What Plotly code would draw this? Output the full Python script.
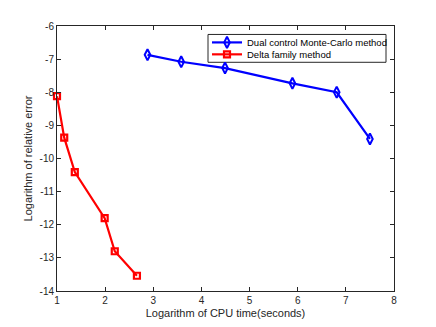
import plotly.graph_objects as go

mc_x = [2.88, 3.58, 4.49, 5.89, 6.81, 7.50]
mc_y = [-6.87, -7.08, -7.27, -7.73, -8.00, -9.41]
delta_x = [1.00, 1.15, 1.37, 1.99, 2.20, 2.66]
delta_y = [-8.12, -9.37, -10.41, -11.80, -12.80, -13.54]

xticks = [1, 2, 3, 4, 5, 6, 7, 8]
yticks = [-6, -7, -8, -9, -10, -11, -12, -13, -14]

series_names = ["Dual control Monte-Carlo method", "Delta family method"]
series_colors = ["#0000ff", "#ff0000"]

FONT = "Liberation Sans, Arial"
mc_marker = dict(symbol="diamond-tall-open", size=8, color=series_colors[0],
                 line=dict(width=2, color=series_colors[0]))
dl_marker = dict(symbol="square-open", size=6, color=series_colors[1],
                 line=dict(width=2.2, color=series_colors[1]))

fig = go.Figure()
fig.add_trace(go.Scatter(
    x=mc_x, y=mc_y, mode="lines+markers", name=series_names[0],
    line=dict(color=series_colors[0], width=2.2), marker=mc_marker,
    cliponaxis=False, showlegend=False,
))
fig.add_trace(go.Scatter(
    x=delta_x, y=delta_y, mode="lines+markers", name=series_names[1],
    line=dict(color=series_colors[1], width=2.2), marker=dl_marker,
    cliponaxis=False, showlegend=False,
))

# Manual legend drawn on an overlay axis measured in plot-area pixels
PW, PH = 337.0, 266.5
lg_left, lg_right, lg_top, lg_bot = 151.0, 329.0, 8.5, 36.5
row_y = [16.5, 28.5]
seg_x0, seg_x1 = 155.0, 185.0
fig.add_shape(type="rect", xref="x2", yref="y2", x0=lg_left, x1=lg_right, y0=lg_top, y1=lg_bot,
              line=dict(color="#262626", width=1), fillcolor="white", layer="below")
for i, (nm, col, mk) in enumerate(zip(series_names, series_colors, [mc_marker, dl_marker])):
    fig.add_trace(go.Scatter(
        x=[seg_x0, seg_x1], y=[row_y[i], row_y[i]], mode="lines", xaxis="x2", yaxis="y2",
        line=dict(color=col, width=2.2), showlegend=False, hoverinfo="skip"))
    fig.add_trace(go.Scatter(
        x=[(seg_x0 + seg_x1) / 2], y=[row_y[i]], mode="markers", xaxis="x2", yaxis="y2",
        marker=mk, showlegend=False, hoverinfo="skip"))
    fig.add_annotation(x=seg_x1 + 3, y=row_y[i], xref="x2", yref="y2", text=nm, showarrow=False,
                       xanchor="left", yanchor="middle",
                       font=dict(family=FONT, size=9.5, color="#000000"))

axis_common = dict(
    showgrid=False, zeroline=False, showline=True, mirror="ticks",
    linecolor="#262626", linewidth=1, ticks="inside", ticklen=4,
    tickcolor="#262626", tickfont=dict(family=FONT, size=10, color="#262626"),
)
fig.update_layout(
    width=436, height=327,
    paper_bgcolor="white", plot_bgcolor="white",
    margin=dict(l=49, r=50, t=16, b=44),
    xaxis=dict(range=[1, 8], tickvals=xticks, ticktext=[str(v) for v in xticks],
               title=dict(text="Logarithm of CPU time(seconds)", standoff=4,
                          font=dict(family=FONT, size=11, color="#262626")),
               **axis_common),
    yaxis=dict(range=[-14, -6], tickvals=yticks, ticktext=[str(v) for v in yticks],
               title=dict(text="Logarithm of relative error", standoff=4,
                          font=dict(family=FONT, size=11, color="#262626")),
               **axis_common),
    xaxis2=dict(overlaying="x", range=[0, PW], visible=False, fixedrange=True),
    yaxis2=dict(overlaying="y", range=[PH, 0], visible=False, fixedrange=True),
    showlegend=False,
)
fig.write_html("out.html")
